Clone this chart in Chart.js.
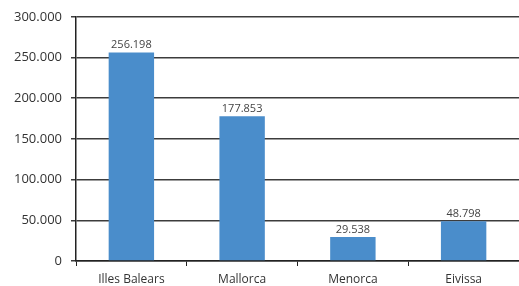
<!DOCTYPE html>
<html>
<head>
<meta charset="utf-8">
<script src="https://cdn.jsdelivr.net/npm/chart.js@4"></script>
<style>
  html, body { margin: 0; padding: 0; background: #fff; }
  #wrap { width: 519px; height: 286px; }
</style>
</head>
<body>
<div id="wrap"><canvas id="graphCanvas"></canvas></div>
<script>
var islands = ['Illes Balears', 'Mallorca', 'Menorca', 'Eivissa'];
var population = [256198, 177853, 29538, 48798];
var yTicks = [0, 50000, 100000, 150000, 200000, 250000, 300000];

function fmt(v) {
    return v.toString().replace(/\B(?=(\d{3})+(?!\d))/g, '.');
}

// value labels above the bars
var barLabels = {
    id: 'barLabels',
    afterDatasetsDraw: function(chart) {
        var ctx = chart.ctx;
        var meta = chart.getDatasetMeta(0);
        ctx.save();
        ctx.font = '11px "Open Sans"';
        ctx.fillStyle = '#444';
        ctx.textAlign = 'center';
        ctx.textBaseline = 'bottom';
        meta.data.forEach(function(bar, i) {
            ctx.fillText(fmt(population[i]), bar.x, bar.y - 2);
        });
        ctx.restore();
    }
};

new Chart(document.getElementById('graphCanvas'), {
    type: 'bar',
    data: {
        labels: islands,
        datasets: [{
            data: population,
            backgroundColor: '#4a8dcb',
            barPercentage: 0.41,
            categoryPercentage: 1
        }]
    },
    plugins: [barLabels],
    options: {
        responsive: true,
        maintainAspectRatio: false,
        animation: false,
        layout: { padding: { top: 7, right: 0, left: 0, bottom: 0 } },
        plugins: {
            legend: { display: false },
            tooltip: { enabled: false }
        },
        scales: {
            x: {
                afterFit: function(axis) { axis.height = 25; },
                grid: {
                    offset: true,
                    drawOnChartArea: false,
                    tickLength: 5,
                    color: '#222'
                },
                border: { color: '#222', width: 1.5 },
                ticks: {
                    color: '#333',
                    font: { family: 'Open Sans', size: 12 },
                    padding: 6
                }
            },
            y: {
                min: 0,
                max: 300000,
                afterBuildTicks: function(axis) {
                    axis.ticks = yTicks.map(function(v) { return { value: v }; });
                },
                afterFit: function(axis) { axis.width = 76; },
                grid: {
                    color: '#3c3c3c',
                    lineWidth: 1.5,
                    tickLength: 5
                },
                border: { color: '#222', width: 1.5 },
                ticks: {
                    color: '#333',
                    font: { family: 'Open Sans', size: 13 },
                    padding: 9,
                    callback: function(value) { return fmt(value); }
                }
            }
        }
    }
});
</script>
</body>
</html>
